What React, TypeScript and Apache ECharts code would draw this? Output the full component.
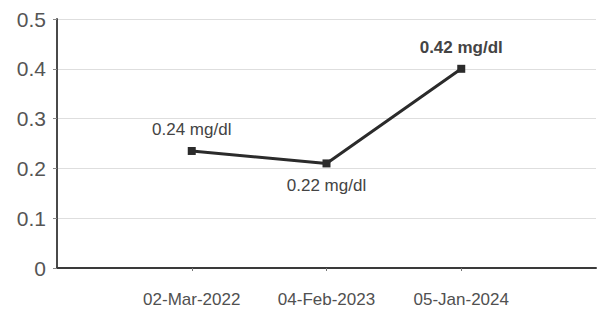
import React, { useEffect, useRef } from "react";
import * as echarts from "echarts";

const categories = ["", "02-Mar-2022", "04-Feb-2023", "05-Jan-2024", ""];
const values: (number | null)[] = [null, 0.235, 0.21, 0.4, null];
const labelTexts = ["", "0.24 mg/dl", "0.22 mg/dl", "0.42 mg/dl", ""];
const labelPositions = ["top", "top", "bottom", "top", "top"];
const labelBold = [false, false, false, true, false];
const yTicks = [0, 0.1, 0.2, 0.3, 0.4, 0.5];

export default function App() {
  const ref = useRef<HTMLDivElement>(null);
  useEffect(() => {
    if (!ref.current) return;
    const chart = echarts.init(ref.current, null, { renderer: "svg" });
    const font = "Liberation Sans, Arial, sans-serif";
    chart.setOption({
      animation: false,
      backgroundColor: "#ffffff",
      grid: { left: 57, right: -4, top: 19, bottom: 48 },
      xAxis: {
        type: "category",
        data: categories,
        boundaryGap: false,
        axisLine: { show: true, lineStyle: { color: "#3a3a3a", width: 2 } },
        axisTick: {
          show: true,
          length: 3,
          interval: (i: number) => categories[i] !== "",
          lineStyle: { color: "#777" },
        },
        axisLabel: {
          color: "#505050",
          fontSize: 17,
          fontFamily: font,
          margin: 23,
          interval: 0,
        },
        splitLine: { show: false },
      },
      yAxis: {
        type: "value",
        min: yTicks[0],
        max: yTicks[yTicks.length - 1],
        interval: 0.1,
        axisLine: { show: true, lineStyle: { color: "#4a4a4a", width: 2 } },
        axisTick: { show: true, length: 4, lineStyle: { color: "#888" } },
        axisLabel: {
          color: "#555",
          fontSize: 21,
          fontFamily: font,
          margin: 11,
          formatter: (v: number) => (v === 0 ? "0" : String(Math.round(v * 10) / 10)),
        },
        splitLine: { show: true, lineStyle: { color: "#dedede", width: 1 } },
      },
      series: [
        {
          type: "line",
          data: values.map((v, i) => ({
            value: v,
            label: {
              show: v !== null,
              position: labelPositions[i],
              distance: labelPositions[i] === "top" ? 9 : 10,
              formatter: () => labelTexts[i],
              color: "#444",
              fontSize: 17,
              fontWeight: labelBold[i] ? "bold" : "normal",
              fontFamily: font,
            },
          })),
          symbol: "rect",
          symbolSize: 8,
          connectNulls: false,
          lineStyle: { color: "#2b2b2b", width: 3 },
          itemStyle: { color: "#2b2b2b" },
        },
      ],
    });
    return () => chart.dispose();
  }, []);
  return (
    <div
      ref={ref}
      style={{ position: "fixed", left: 0, top: 0, width: 599, height: 316, background: "#fff" }}
    />
  );
}
